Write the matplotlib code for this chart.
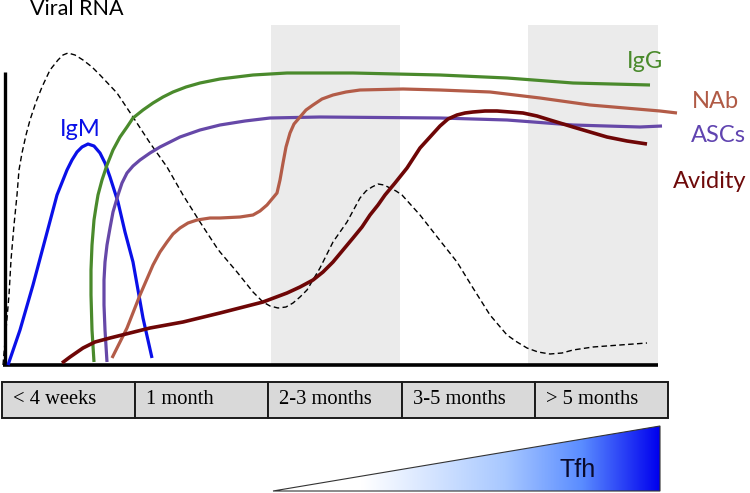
import numpy as np
import matplotlib.pyplot as plt
from matplotlib.colors import LinearSegmentedColormap
from matplotlib.patches import Polygon

# schematic time course, arbitrary units (time 0..666, level 0..340)
rna_t = [1, 4, 7, 9, 12, 15, 17, 20, 24, 28, 34, 40, 48, 56, 61, 66, 73, 81, 90, 98, 115, 131, 148,
         165, 181, 198, 215, 218, 235, 251, 261, 268, 276, 284, 291, 298, 305, 318, 331, 345, 358, 364,
         370, 376, 382, 388, 394, 400, 418, 436, 455, 471, 488, 505, 515, 525, 536, 548, 560, 571, 591,
         618, 645]
rna_y = [0, 35, 70, 105, 140, 170, 195, 212, 230, 245, 263, 278, 295, 305, 310, 312, 310, 305, 298, 290, 272, 248, 222,
         198, 170, 143, 117, 113, 93, 73, 63, 59, 57, 58, 62, 68, 75, 97, 123, 143, 167, 174,
         178, 181, 180, 177, 174, 170, 150, 127, 103, 77, 50, 30, 23, 17, 13, 11, 12, 15, 18,
         20, 22]

igm_t = [6, 18, 31, 43, 55, 65, 70, 75, 80, 86, 92, 98, 103, 108, 116, 123, 131, 141, 150]
igm_y = [0, 35, 80, 125, 170, 195, 205, 213, 218, 221, 219, 212, 202, 188, 163, 133, 103, 47, 7]

igg_t = [92, 90, 89, 89, 90, 92, 94, 96, 100, 105, 111, 118, 125, 131, 141, 151, 161, 171, 184, 198, 218,
         251, 285, 351, 438, 505, 571, 648]
igg_y = [3, 35, 70, 95, 120, 145, 158, 170, 185, 200, 215, 228, 238, 247, 255, 262, 268, 273, 278, 282, 286,
         290, 292, 292, 290, 287, 282, 280]

asc_t = [105, 103, 102, 102, 103, 105, 108, 111, 116, 120, 125, 131, 138, 148, 158, 168, 178, 198, 218, 243,
         268, 318, 438, 505, 571, 638, 660]
asc_y = [3, 35, 60, 85, 103, 120, 137, 153, 170, 182, 192, 199, 205, 212, 218, 223, 228, 235, 240, 244,
         247, 248, 247, 245, 240, 238, 239]

nab_t = [110, 125, 138, 151, 158, 165, 171, 178, 186, 195, 208, 218, 238, 251, 258, 265, 270, 275, 278, 281,
         284, 288, 292, 298, 304, 311, 320, 331, 344, 358, 401, 438, 488, 538, 588, 658, 675]
nab_y = [7, 37, 70, 100, 113, 123, 131, 137, 142, 145, 147, 147, 148, 150, 154, 160, 166, 172, 185, 202,
         218, 232, 241, 248, 255, 260, 266, 270, 273, 275, 276, 275, 273, 267, 260, 254, 252]

avi_t = [60, 68, 81, 93, 108, 148, 181, 218, 261, 285, 298, 311, 321, 331, 341, 351, 360, 368, 376, 383,
         393, 405, 418, 428, 438, 446, 455, 463, 471, 483, 495, 508, 521, 535, 548, 571, 588, 605, 625, 645]
avi_y = [2, 8, 17, 23, 27, 37, 43, 52, 63, 72, 78, 85, 93, 103, 115, 127, 138, 150, 160, 170,
         182, 197, 217, 228, 239, 246, 250, 252, 253, 254, 254, 253, 252, 249, 245, 238, 233, 228, 224, 221]

periods = ['< 4 weeks', '1 month', '2-3 months', '3-5 months', '> 5 months']
shaded = [(269, 398), (526, 656)]

fig = plt.figure(figsize=(7.5, 4.93), dpi=100)
W, H = 750.0, 493.0

# ---- main panel ----
ax = fig.add_axes([2 / W, (H - 365) / H, 666 / W, 340 / H])
ax.set_xlim(0, 666)
ax.set_ylim(0, 340)
ax.axis('off')

for a, b in shaded:
    ax.axvspan(a, b, ymin=0, ymax=1, color='#ebebeb', lw=0, zorder=0)

ax.plot([2.5, 2.5], [0, 293], color='black', lw=2.4, solid_capstyle='butt', clip_on=False)
ax.plot([1, 656], [0, 0], color='black', lw=2.6, solid_capstyle='butt', clip_on=False)

ax.plot(rna_t, rna_y, color='black', lw=1.0, dashes=(4, 2.4), clip_on=False)
kw = dict(solid_joinstyle='round', solid_capstyle='butt', clip_on=False)
ax.plot(igm_t, igm_y, color='#0a10e8', lw=2.3, **kw)
ax.plot(igg_t, igg_y, color='#4a8a2c', lw=2.3, **kw)
ax.plot(asc_t, asc_y, color='#6648a8', lw=2.3, **kw)
ax.plot(nab_t, nab_y, color='#b35c48', lw=2.3, **kw)
ax.plot(avi_t, avi_y, color='#6e0606', lw=2.6, **kw)

lab = dict(family='Lato', fontsize=17, ha='center', va='center')
ax.text(28, 356, 'Viral RNA', color='black', family='Lato', fontsize=15.5, ha='left', va='center')
ax.text(78, 235, 'IgM', color='#0a10e8', **lab)
ax.text(643, 303, 'IgG', color='#4a8a2c', **lab)
ax.text(713, 263, 'NAb', color='#b05a45', **lab)
ax.text(716, 230, 'ASCs', color='#6044b0', **lab)
ax.text(708, 183, 'Avidity', color='#6e0a0a', **lab)

# ---- period table ----
tb = fig.add_axes([2 / W, (H - 418) / H, 666 / W, 36 / H])
tb.set_xlim(0, len(periods))
tb.set_ylim(0, 1)
tb.axis('off')
tb.bar(np.arange(len(periods)), 1, width=1, align='edge', color='#d9d9d9',
       edgecolor='#1a1a1a', linewidth=1.4, clip_on=False)
for i, p in enumerate(periods):
    tb.text(i + 0.083, 0.5, p, family='Liberation Serif', fontsize=14.8, ha='left', va='center')

# ---- Tfh wedge ----
tf = fig.add_axes([273 / W, (H - 491) / H, 387 / W, 65 / H])
tf.set_xlim(0, 1)
tf.set_ylim(0, 1)
tf.axis('off')
cmap = LinearSegmentedColormap.from_list('tfh', [(0, 'white'), (0.23, 'white'), (0.6, '#a8c8ff'),
                                                 (0.8, '#5a8cff'), (1, '#0000ee')])
grad = np.linspace(0, 1, 256).reshape(1, -1)
im = tf.imshow(grad, cmap=cmap, extent=[0, 1, 0, 1], aspect='auto')
tri = Polygon([[0, 0], [1, 0], [1, 1]], closed=True, facecolor='none', edgecolor='#333333', lw=0.8,
              clip_on=False)
tf.add_patch(tri)
im.set_clip_path(tri)
tf.text(0.788, 0.32, 'Tfh', family='Liberation Sans', fontsize=18, color='#0a0a2a', ha='center', va='center')

fig.savefig('out.png', dpi=100)
